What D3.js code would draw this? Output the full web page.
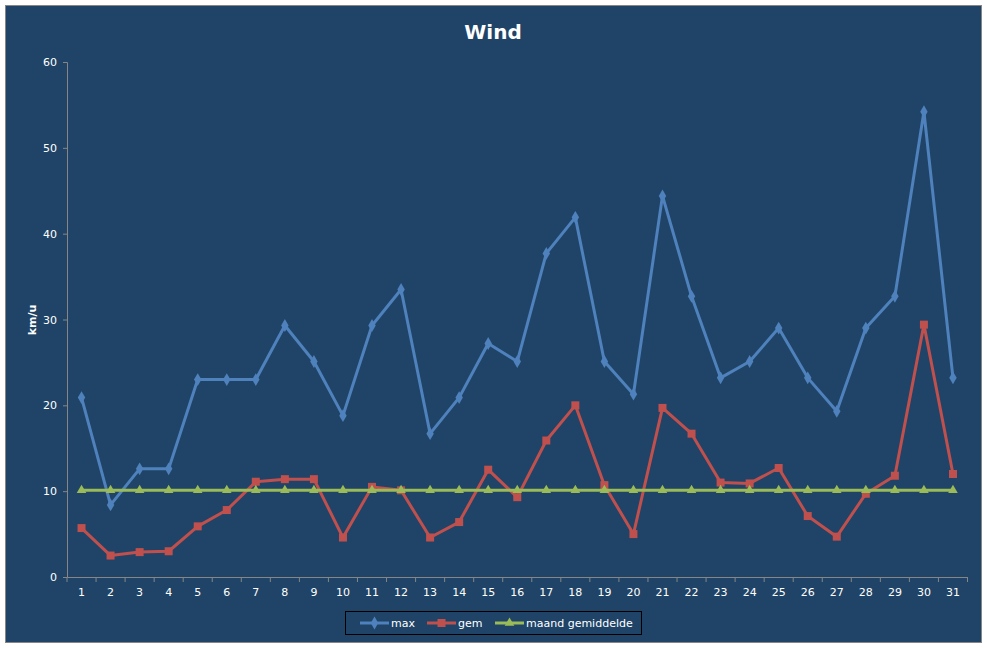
<!DOCTYPE html>
<html>
<head>
<meta charset="utf-8">
<script src="https://cdn.jsdelivr.net/npm/d3@7"></script>
<style>
  body { margin: 0; background: #fff; }
  svg { display: block; font-family: "DejaVu Sans", Verdana, sans-serif; }
</style>
</head>
<body>
<svg id="chart" width="987" height="648"></svg>
<script>
// day of month
const days = d3.range(1, 32).map(String);
const maxWind = [20.9, 8.4, 12.6, 12.6, 23.0, 23.0, 23.0, 29.3, 25.1, 18.8, 29.3, 33.5, 16.7, 20.9, 27.2, 25.1,
  37.7, 41.9, 25.1, 21.3, 44.4, 32.7, 23.2, 25.1, 29.0, 23.2, 19.3, 29.0, 32.7, 54.2, 23.2];
const gemWind = [5.7, 2.5, 2.9, 3.0, 5.9, 7.8, 11.1, 11.4, 11.4, 4.6, 10.5, 10.1, 4.6, 6.4, 12.5, 9.3,
  15.9, 20.0, 10.7, 5.0, 19.7, 16.7, 11.0, 10.9, 12.7, 7.1, 4.7, 9.7, 11.8, 29.4, 12.0];
const maandGem = [10.1, 10.1, 10.1, 10.1, 10.1, 10.1, 10.1, 10.1, 10.1, 10.1, 10.1, 10.1, 10.1, 10.1, 10.1, 10.1,
  10.1, 10.1, 10.1, 10.1, 10.1, 10.1, 10.1, 10.1, 10.1, 10.1, 10.1, 10.1, 10.1, 10.1, 10.1];
const yTicks = [0, 10, 20, 30, 40, 50, 60];

const series = [
  { name: 'max', values: maxWind, color: '#4F81BD', shape: d3.symbolDiamond, size: 48 },
  { name: 'gem', values: gemWind, color: '#C0504D', shape: d3.symbolSquare, size: 64 },
  { name: 'maand gemiddelde', values: maandGem, color: '#9BBB59', shape: d3.symbolTriangle, size: 40 }
];

const bg = '#1F4467';
const axisColor = '#868686';
const svg = d3.select('#chart');

svg.append('rect')
  .attr('x', 5.5).attr('y', 5.5).attr('width', 976).attr('height', 637)
  .attr('fill', bg).attr('stroke', axisColor).attr('stroke-width', 1);

const margin = { top: 62, left: 67, right: 20, bottom: 71 };
const width = 967.5 - margin.left;
const height = 577 - margin.top;

const x = d3.scaleBand().domain(days).range([0, width]);
const y = d3.scaleLinear().domain([0, 60]).range([height, 0]);

const g = svg.append('g').attr('transform', `translate(${margin.left},${margin.top})`);

// y axis
const yAxis = g.append('g').call(d3.axisLeft(y).tickValues(yTicks).tickSize(4).tickPadding(6));
// x axis with ticks between categories
const xAxis = g.append('g').attr('transform', `translate(0,${height})`)
  .call(d3.axisBottom(x).tickSize(0).tickPadding(11));
xAxis.selectAll('.cat-tick')
  .data(d3.range(0, 32))
  .enter().append('line')
  .attr('x1', i => i * x.step()).attr('x2', i => i * x.step())
  .attr('y1', 0).attr('y2', 5)
  .attr('stroke', axisColor);

[yAxis, xAxis].forEach(a => {
  a.select('.domain').attr('stroke', axisColor);
  a.selectAll('.tick line').attr('stroke', axisColor);
  a.selectAll('text').attr('fill', '#fff').attr('font-size', 11)
    .attr('font-family', '"DejaVu Sans", Verdana, sans-serif');
});

const line = d3.line()
  .x((d, i) => x(days[i]) + x.bandwidth() / 2)
  .y(d => y(d));

series.forEach(s => {
  g.append('path')
    .datum(s.values)
    .attr('fill', 'none')
    .attr('stroke', s.color)
    .attr('stroke-width', 3)
    .attr('stroke-linejoin', 'round')
    .attr('d', line);
  g.selectAll(null)
    .data(s.values)
    .enter().append('path')
    .attr('d', d3.symbol().type(s.shape).size(s.size))
    .attr('transform', (d, i) => `translate(${x(days[i]) + x.bandwidth() / 2},${y(d)})`)
    .attr('fill', s.color);
});

// title
svg.append('text')
  .attr('x', 493).attr('y', 39)
  .attr('text-anchor', 'middle')
  .attr('fill', '#fff').attr('font-weight', 'bold').attr('font-size', 20)
  .text('Wind');

// y axis title
svg.append('text')
  .attr('transform', 'translate(36,320) rotate(-90)')
  .attr('text-anchor', 'middle')
  .attr('fill', '#fff').attr('font-weight', 'bold').attr('font-size', 11)
  .text('km/u');

// legend
const legend = svg.append('g');
legend.append('rect')
  .attr('x', 345.5).attr('y', 611.5).attr('width', 296).attr('height', 23)
  .attr('fill', 'none').attr('stroke', '#000');
const legendX = [360, 427, 495];
series.forEach((s, i) => {
  const lg = legend.append('g').attr('transform', `translate(${legendX[i]},623)`);
  lg.append('line').attr('x1', 0).attr('x2', 29).attr('stroke', s.color).attr('stroke-width', 3);
  lg.append('path').attr('d', d3.symbol().type(s.shape).size(s.size))
    .attr('transform', 'translate(14.5,0)').attr('fill', s.color);
  lg.append('text').attr('x', 31).attr('y', 4).attr('fill', '#fff').attr('font-size', 11)
    .text(s.name);
});
</script>
</body>
</html>
